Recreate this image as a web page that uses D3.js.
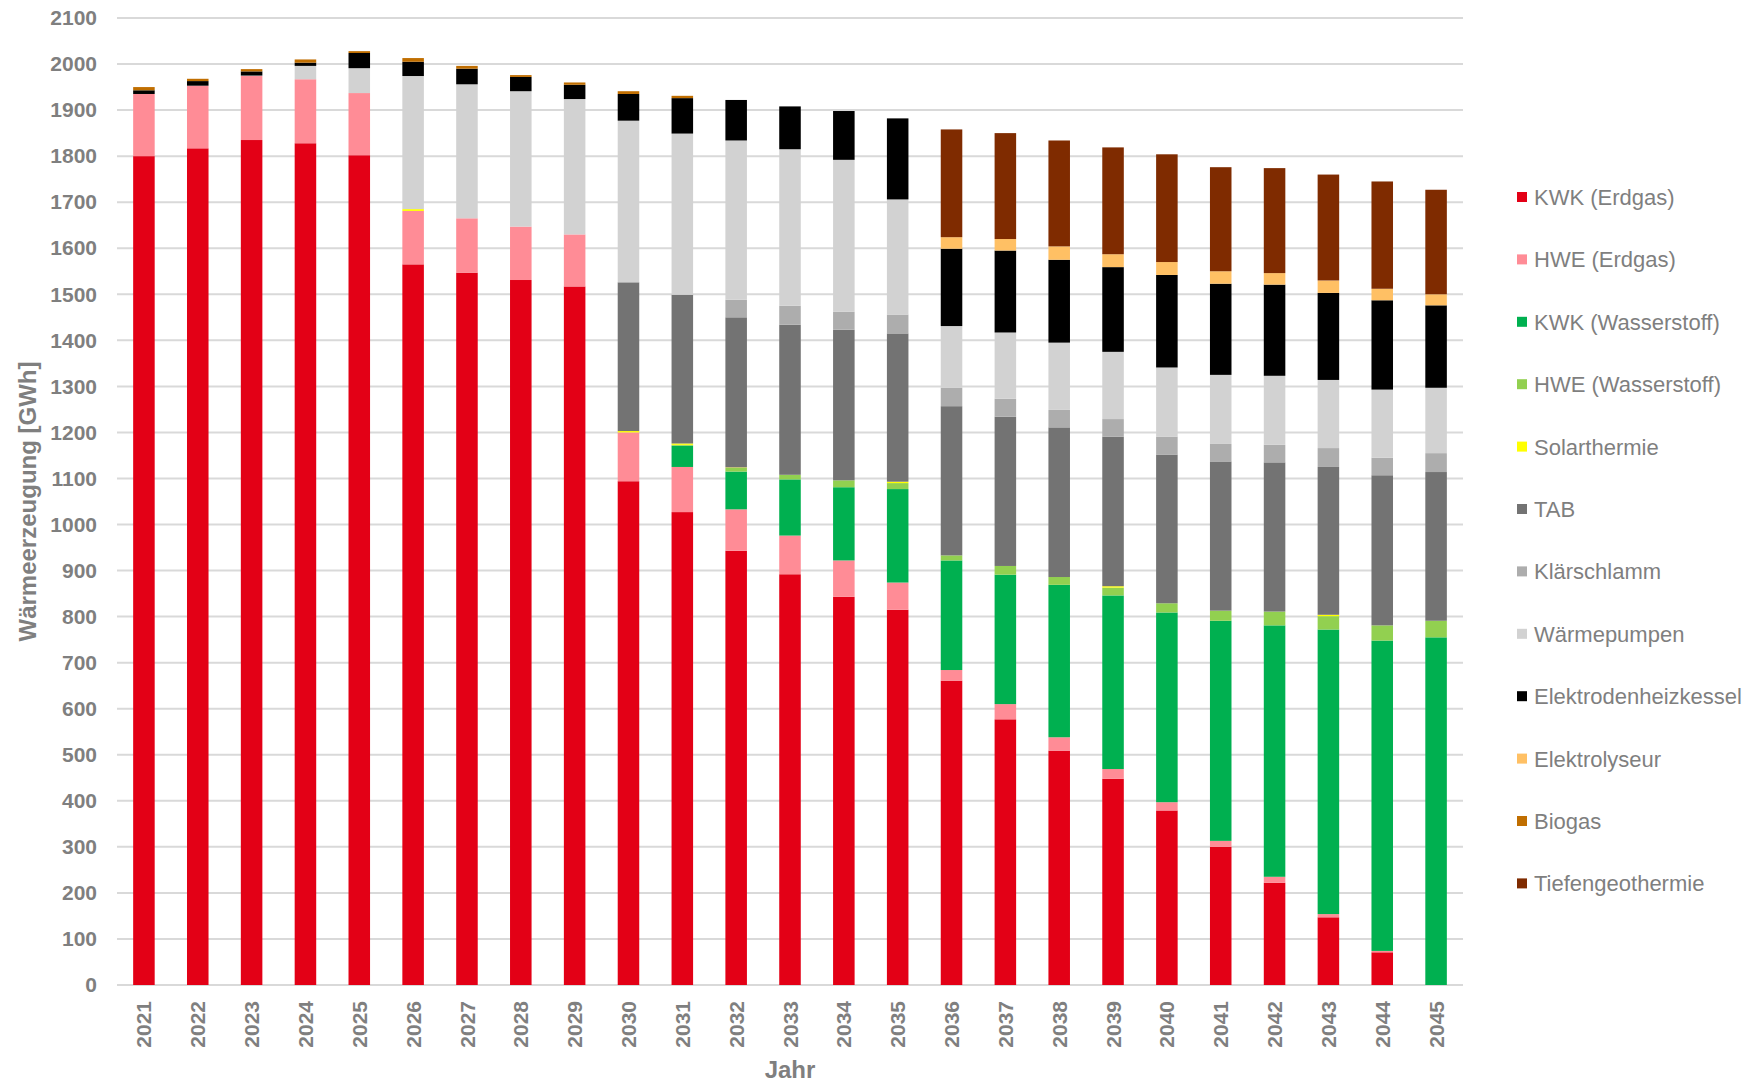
<!DOCTYPE html>
<html>
<head>
<meta charset="utf-8">
<script src="https://cdn.jsdelivr.net/npm/d3@7"></script>
<style>
  body { margin: 0; background: #fff; }
  #viz text { font-family: "Liberation Sans", Arial, sans-serif; }
</style>
</head>
<body>
<div id="viz"></div>
<script>
const years = ["2021","2022","2023","2024","2025","2026","2027","2028","2029","2030","2031","2032","2033",
               "2034","2035","2036","2037","2038","2039","2040","2041","2042","2043","2044","2045"];

const seriesNames = ["KWK (Erdgas)", "HWE (Erdgas)", "KWK (Wasserstoff)", "HWE (Wasserstoff)", "Solarthermie",
                     "TAB", "Klärschlamm", "Wärmepumpen", "Elektrodenheizkessel", "Elektrolyseur", "Biogas", "Tiefengeothermie"];
const seriesColors = ["#e30016", "#ff8c96", "#00b050", "#92d050", "#ffff00",
                      "#737373", "#adadad", "#d2d2d2", "#000000", "#ffc064", "#c06e00", "#7f2b00"];

// GWh per year
const kwkErdgas    = [1800, 1817, 1835, 1828, 1802, 1565, 1547, 1531, 1517, 1094, 1027, 943, 892, 843, 815, 661, 577, 509, 448, 379, 300, 222, 147, 71, 0];
const hweErdgas    = [135, 136, 139, 139, 135, 116, 118, 116, 113, 106, 98, 90, 84, 79, 59, 23, 33, 29, 21, 18, 13, 13, 7, 3, 0];
const kwkH2        = [0, 0, 0, 0, 0, 0, 0, 0, 0, 0, 46, 82, 122, 159, 203, 238, 281, 331, 377, 412, 478, 546, 618, 674, 755];
const hweH2        = [0, 0, 0, 0, 0, 0, 0, 0, 0, 0, 2, 8, 10, 15, 13, 11, 19, 17, 17, 20, 22, 30, 29, 33, 36];
const solar        = [0, 0, 0, 0, 0, 4, 0, 0, 0, 3, 3, 1, 0, 0, 3, 0, 0, 0, 3, 0, 0, 0, 3, 0, 0];
const tab          = [0, 0, 0, 0, 0, 0, 0, 0, 0, 323, 323, 326, 326, 327, 322, 324, 324, 325, 325, 323, 324, 324, 321, 326, 323];
const klaer        = [0, 0, 0, 0, 0, 0, 0, 0, 0, 0, 0, 38, 41, 39, 41, 40, 39, 38, 38, 39, 38, 38, 41, 38, 41];
const waermepumpen = [0, 0, 1, 29, 54, 289, 291, 294, 294, 351, 350, 346, 340, 330, 250, 134, 144, 146, 146, 150, 150, 150, 148, 148, 142];
const elektroden   = [8, 10, 9, 7, 33, 31, 34, 31, 31, 58, 77, 88, 93, 106, 176, 168, 178, 180, 184, 201, 198, 198, 189, 194, 179];
const elektrolyse  = [0, 0, 0, 0, 0, 0, 0, 0, 0, 0, 0, 0, 0, 0, 0, 25, 25, 29, 28, 28, 27, 25, 27, 25, 24];
const biogas       = [7, 5, 5, 7, 4, 8, 6, 4, 5, 6, 5, 0, 0, 0, 0, 0, 0, 0, 0, 0, 0, 0, 0, 0, 0];
const tiefengeo    = [0, 0, 0, 0, 0, 0, 0, 0, 0, 0, 0, 0, 0, 0, 0, 234, 230, 230, 232, 234, 226, 228, 230, 233, 227];

const yTicks = d3.range(0, 2101, 100);

const allSeries = [kwkErdgas, hweErdgas, kwkH2, hweH2, solar, tab, klaer, waermepumpen, elektroden, elektrolyse, biogas, tiefengeo];

// one row per year for d3.stack
const table = years.map((yr, i) => {
    const row = { year: yr };
    seriesNames.forEach((name, k) => { row[name] = allSeries[k][i]; });
    return row;
});

const width = 1747, height = 1083;
const plot = { left: 117, right: 1463, top: 18, bottom: 985 };

const svg = d3.select("#viz")
              .append("svg")
              .attr("width", width)
              .attr("height", height);

const x = d3.scaleBand()
            .domain(years)
            .range([plot.left, plot.right])
            .paddingInner(0.6)
            .paddingOuter(0.3);

const y = d3.scaleLinear()
            .domain([0, 2100])
            .range([plot.bottom, plot.top]);

// gridlines
svg.append("g")
   .selectAll("line")
   .data(yTicks)
   .join("line")
   .attr("x1", plot.left)
   .attr("x2", plot.right)
   .attr("y1", d => y(d))
   .attr("y2", d => y(d))
   .attr("stroke", "#d9d9d9")
   .attr("stroke-width", 2);

// y axis labels (no thousands separator)
const yAxis = svg.append("g")
                 .attr("transform", `translate(${plot.left - 20},0)`)
                 .call(d3.axisLeft(y).tickValues(yTicks).tickFormat(d3.format("d")).tickSize(0).tickPadding(0));
yAxis.select(".domain").remove();
yAxis.selectAll("text")
     .attr("fill", "#7f7f7f")
     .style("font-size", "21px")
     .style("font-weight", "bold");

// x axis labels, rotated
const xAxis = svg.append("g")
                 .attr("transform", `translate(0,${plot.bottom})`)
                 .call(d3.axisBottom(x).tickSize(0));
xAxis.select(".domain").remove();
xAxis.selectAll("text")
     .attr("fill", "#7f7f7f")
     .style("font-size", "21px")
     .style("font-weight", "bold")
     .attr("text-anchor", "end")
     .attr("transform", "rotate(-90)")
     .attr("x", -16)
     .attr("y", 0)
     .attr("dy", "0.36em");

// stacked bars
const stacked = d3.stack().keys(seriesNames)(table);

svg.append("g")
   .selectAll("g")
   .data(stacked)
   .join("g")
   .attr("fill", (d, k) => seriesColors[k])
   .selectAll("rect")
   .data(d => d)
   .join("rect")
   .attr("x", d => x(d.data.year))
   .attr("width", x.bandwidth())
   .attr("y", d => y(d[1]))
   .attr("height", d => Math.max(0, y(d[0]) - y(d[1])));

// axis titles
svg.append("text")
   .attr("transform", `translate(36,${(plot.top + plot.bottom) / 2}) rotate(-90)`)
   .attr("text-anchor", "middle")
   .attr("fill", "#7f7f7f")
   .style("font-size", "24px")
   .style("font-weight", "bold")
   .text("Wärmeerzeugung [GWh]");

svg.append("text")
   .attr("x", (plot.left + plot.right) / 2)
   .attr("y", 1078)
   .attr("text-anchor", "middle")
   .attr("fill", "#7f7f7f")
   .style("font-size", "24px")
   .style("font-weight", "bold")
   .text("Jahr");

// legend
const legend = svg.append("g")
                  .selectAll("g")
                  .data(seriesNames)
                  .join("g")
                  .attr("transform", (d, k) => `translate(1517,${197 + k * 62.4})`);
legend.append("rect")
      .attr("x", 0)
      .attr("y", -5)
      .attr("width", 10)
      .attr("height", 10)
      .attr("fill", (d, k) => seriesColors[k]);
legend.append("text")
      .attr("x", 17)
      .attr("dy", "0.36em")
      .attr("fill", "#7f7f7f")
      .style("font-size", "22px")
      .text(d => d);
</script>
</body>
</html>
